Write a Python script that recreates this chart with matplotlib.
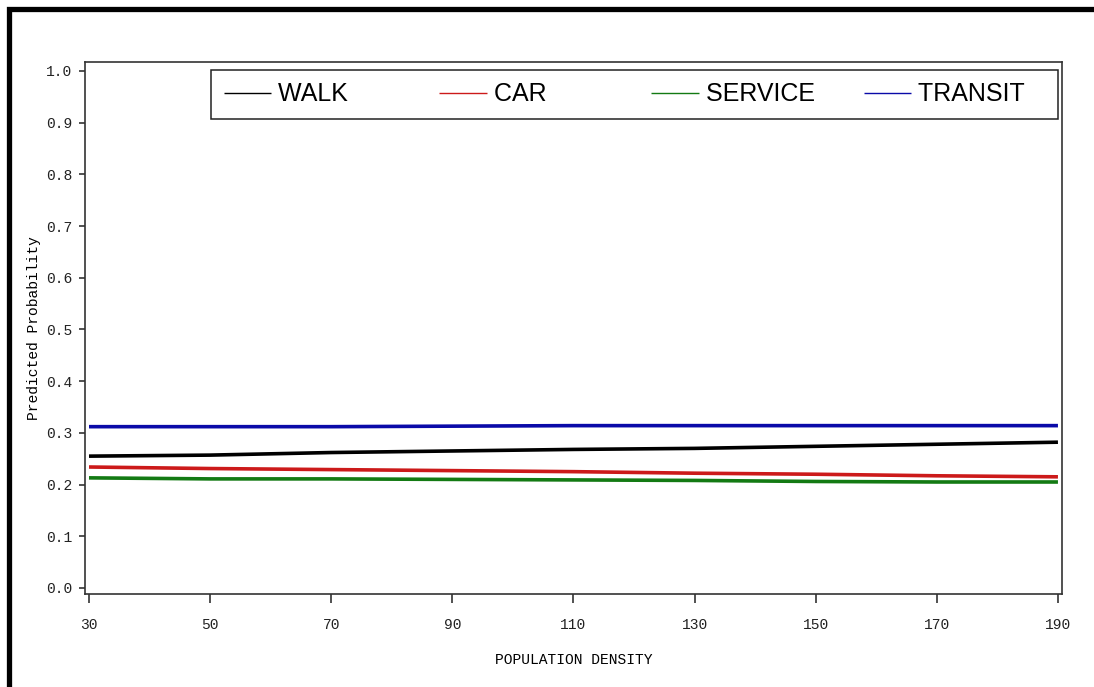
import numpy as np
import matplotlib
matplotlib.use('Agg')
import matplotlib.pyplot as plt
from matplotlib.patches import Rectangle

# predicted probability vs population density
density = [30, 50, 70, 90, 110, 130, 150, 170, 190]
walk = [0.255, 0.257, 0.262, 0.265, 0.268, 0.270, 0.274, 0.278, 0.282]
car = [0.234, 0.231, 0.229, 0.227, 0.225, 0.222, 0.220, 0.217, 0.215]
service = [0.213, 0.211, 0.211, 0.210, 0.209, 0.208, 0.206, 0.205, 0.205]
transit = [0.312, 0.312, 0.312, 0.313, 0.314, 0.314, 0.314, 0.314, 0.314]

names = ['WALK', 'CAR', 'SERVICE', 'TRANSIT']
colors = ['black', '#cc1a1a', '#137a13', '#0a0aa8']
xticks = [30, 50, 70, 90, 110, 130, 150, 170, 190]
yticks = [0.0, 0.1, 0.2, 0.3, 0.4, 0.5, 0.6, 0.7, 0.8, 0.9, 1.0]

mono = 'Liberation Mono'

fig = plt.figure(figsize=(10.94, 6.87), dpi=100)
ax = fig.add_axes([0.0777, 0.1354, 0.8930, 0.7744])

series = [walk, car, service, transit]
for ys, name, c in zip(series, names, colors):
	ax.plot(density, ys, color=c, lw=2.6, label=name, solid_capstyle='butt')

ax.set_xlim(29.34, 190.66)
ax.set_ylim(-0.0116, 1.0174)
ax.set_xticks(xticks)
ax.set_xticklabels([str(v) for v in xticks], fontfamily=mono, fontsize=10.5)
ax.set_yticks(yticks)
ax.set_yticklabels(['%.1f' % v for v in yticks], fontfamily=mono, fontsize=10.5)
ax.tick_params(axis='x', direction='out', length=6.5, width=1.1, pad=11, colors='#222222')
ax.tick_params(axis='y', direction='out', length=4, width=1.1, pad=5, colors='#222222')
for s in ax.spines.values():
	s.set_linewidth(1.2)
	s.set_color('#333333')

ax.set_xlabel('POPULATION DENSITY', fontfamily=mono, fontsize=10.5, labelpad=15)
ax.set_ylabel('Predicted Probability', fontfamily=mono, fontsize=10.5, labelpad=4)

# SAS legend puts every entry in an evenly spaced slot, pad labels to fake that
pads = [13, 15, 7, 3]
leg = ax.legend([n + ' ' * p for n, p in zip(names, pads)], loc='upper right',
	bbox_to_anchor=(0.9959, 0.985), borderaxespad=0, ncol=4,
	prop={'family': 'Liberation Sans', 'size': 18}, handlelength=1.9,
	handletextpad=0.28, columnspacing=0, borderpad=0.5, fancybox=False,
	edgecolor='#222222', framealpha=1)
leg.get_frame().set_linewidth(1.1)
for h in leg.get_lines():
	h.set_linewidth(1.0)

# thick black frame of the screenshot (only left and top edges visible)
fig.add_artist(Rectangle((8.5 / 1094, -0.1), 1.2, (687 - 9) / 687 + 0.1,
	transform=fig.transFigure, fill=False, edgecolor='black', lw=3.8))

fig.savefig('out.png', dpi=100)
